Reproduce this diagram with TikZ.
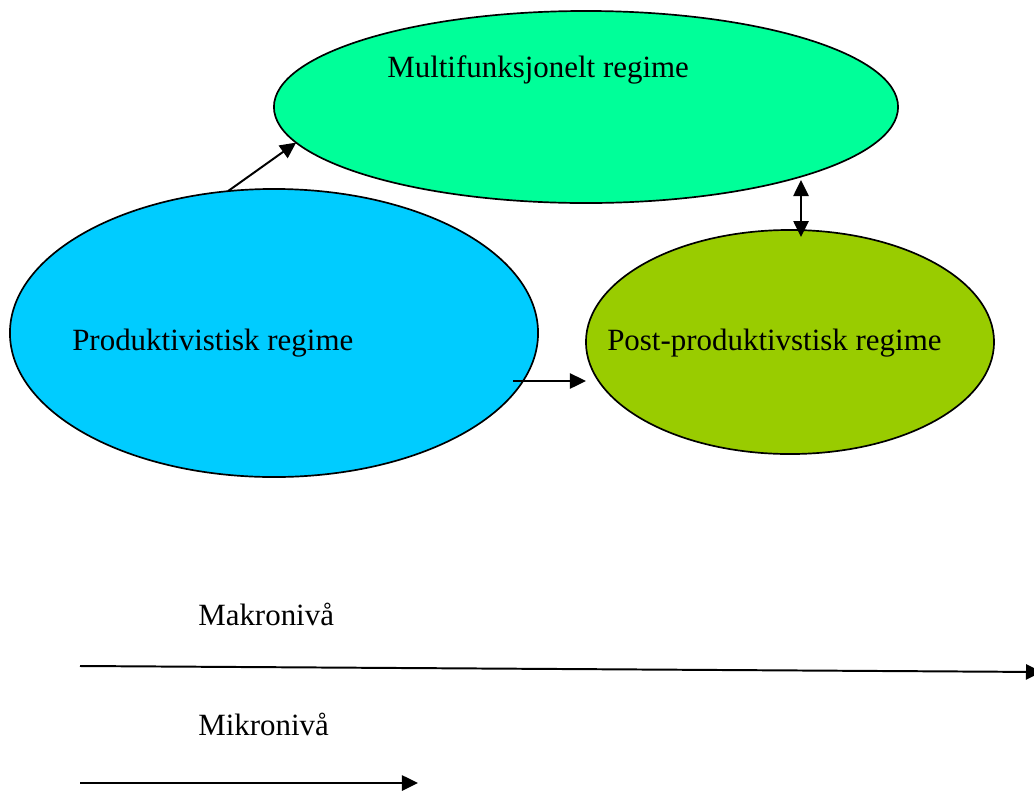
\documentclass[tikz,border=0pt]{standalone}
\usepackage{fontspec}
\setmainfont{Liberation Serif}
\usetikzlibrary{shapes.geometric, arrows.meta}

\definecolor{multigreen}{HTML}{00FF99}
\definecolor{prodblue}{HTML}{00CCFF}
\definecolor{postgreen}{HTML}{99CC00}

\begin{document}
\begin{tikzpicture}[x = 0.025cm, y = -0.025cm, > = {Triangle[length = 0.4cm, width = 0.38cm]},
	regime/.style = {ellipse, draw, line width = 1.2pt, inner sep = 0, outer sep = 0},
	label/.style = {anchor = base west, inner sep = 0, font = \fontsize{22pt}{26pt}\selectfont},
	link/.style = {->, line width = 1.4pt}]

	% Definitions

	\def\W{1034}	% Width of picture
	\def\H{791}		% Height of picture

	\useasboundingbox (0, 0) rectangle (\W, \H);

	% Regimes

	\node [regime, fill = multigreen, minimum width = 15.6cm, minimum height = 4.8cm] (multi) at (586, 107) {};
	\node [regime, fill = prodblue, minimum width = 13.2cm, minimum height = 7.2cm] (prod) at (274, 333) {};
	\node [regime, fill = postgreen, minimum width = 10.2cm, minimum height = 5.6cm] (post) at (790, 342) {};

	% Labels for regimes

	\node [label] (multitext) at (387, 77) {Multifunksjonelt regime};
	\node [label] (prodtext) at (72, 350) {Produktivistisk regime};
	\node [label] (posttext) at (607, 350) {Post-produktivstisk regime};

	% Links between regimes

	\coordinate (start) at (513, 381);
	\coordinate (mtop) at (801, 180);
	\coordinate (ptop) at (801, 237);

	\draw [link] (prod.108.6) -- (multi.187.1);
	\draw [link] (start) -- (start -| post.west);
	\draw [link, <->] (mtop) -- (ptop);

	% Levels

	\node [label] (makro) at (198, 625) {Makronivå};
	\node [label] (mikro) at (198, 735) {Mikronivå};

	\coordinate (makroa) at (80, 666);
	\coordinate (makrob) at (1042, 672);
	\coordinate (mikroa) at (80, 783);
	\coordinate (mikrob) at (418, 783);

	\draw [link] (makroa) -- (makrob);
	\draw [link] (mikroa) -- (mikrob);

\end{tikzpicture}
\end{document}
